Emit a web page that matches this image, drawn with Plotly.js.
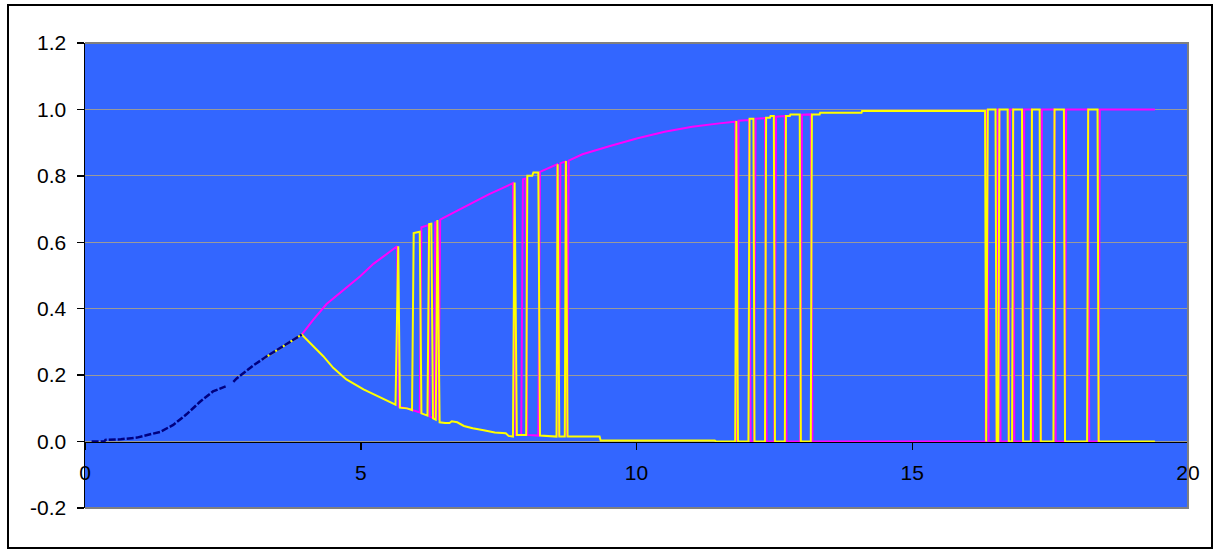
<!DOCTYPE html>
<html>
<head>
<meta charset="utf-8">
<script src="https://cdn.plot.ly/plotly-3.0.1.min.js"></script>
<style>
  html, body { margin: 0; padding: 0; background: #ffffff; }
  #chart { position: absolute; left: 0; top: 0; width: 1215px; height: 550px; }
  #frame { position: absolute; left: 7px; top: 4px; width: 1206px; height: 545px;
           border: 2px solid #000; box-sizing: border-box; pointer-events: none; }
</style>
</head>
<body>
<div id="chart"></div>
<div id="frame"></div>
<script>
// ---- data ----
const navyX = [0.12, 0.35, 0.37, 0.65, 0.94, 1.12, 1.36, 1.6, 1.84, 2.08, 2.32, 2.55, 2.6, 2.69, 2.75, 3.05, 3.29, 3.59, 3.93];
const navyY = [0, 0, 0.005, 0.007, 0.012, 0.019, 0.029, 0.05, 0.082, 0.119, 0.151, 0.166, null, 0.18, 0.19, 0.229, 0.256, 0.287, 0.322];

const magX = [3.93, 4.14, 4.38, 4.75, 4.99, 5.23, 5.49, 5.66, 5.69, 5.84, 5.99, 6.07, 6.10, 6.23, 6.25, 6.33, 6.35, 6.38, 6.41, 6.44,
  6.63, 7.03, 7.33, 7.53, 7.76, 7.81, 7.91, 7.94, 7.99, 8.02, 8.22, 8.25, 8.38, 8.56, 8.59, 8.62, 8.71, 8.74, 8.77,
  9.02, 9.52, 10.02, 10.51, 11.01, 11.5, 11.79, 11.82, 11.85, 12.04, 12.07, 12.13, 12.16, 12.33, 12.36, 12.50, 12.53,
  12.69, 12.72, 12.97, 13.00, 13.16, 13.19, 16.33, 16.355, 16.385, 16.53, 16.55, 16.58, 16.60, 16.75, 16.77, 16.83,
  16.85, 17.01, 17.03, 17.17, 17.19, 17.33, 17.35, 17.58, 17.60, 17.77, 17.79, 18.19, 18.21, 18.38, 18.40, 19.40];
const magY = [0.322, 0.367, 0.414, 0.466, 0.498, 0.535, 0.567, 0.588, 0.105, 0.1, 0.092, 0.088, 0.645, 0.652, 0.075, 0.07, 0.66, 0.662, 0.065, 0.668,
  0.685, 0.72, 0.745, 0.76, 0.778, 0.02, 0.02, 0.79, 0.792, 0.02, 0.018, 0.812, 0.822, 0.835, 0.015, 0.838, 0.843, 0.015, 0.846,
  0.865, 0.89, 0.913, 0.933, 0.948, 0.958, 0.963, 0.0, 0.966, 0.968, 0.0, 0.0, 0.972, 0.974, 0.0, 0.0, 0.978,
  0.98, 0.0, 0.0, 0.984, 0.985, 0.0, 0.0, 1.0, 0.0, 0.0, 1.0, 1.0, 0.0, 0.0, 1.0, 1.0,
  0.0, 0.0, 1.0, 1.0, 0.0, 0.0, 1.0, 1.0, 0.0, 0.0, 1.0, 1.0, 0.0, 0.0, 1.0, 1.0];

const yelX = [3.24, 3.59, 3.93, 4.14, 4.32, 4.5, 4.74, 5.05, 5.35, 5.63, 5.68, 5.71, 5.84, 5.93, 5.96, 6.07, 6.10, 6.21, 6.24,
  6.28, 6.31, 6.36, 6.39, 6.43, 6.53, 6.61, 6.65, 6.75, 6.87, 7.03, 7.23, 7.43, 7.63, 7.68, 7.76, 7.79, 7.83, 7.91, 8.0,
  8.02, 8.11, 8.13, 8.22, 8.25, 8.55, 8.57, 8.60, 8.70, 8.72, 8.75, 9.33, 9.35, 11.42, 11.44, 11.79, 11.81, 11.84, 12.03, 12.05,
  12.12, 12.14, 12.33, 12.35, 12.42, 12.43, 12.49, 12.51, 12.69, 12.71, 12.78, 12.79, 12.96, 12.98, 13.16, 13.18, 13.32, 13.33,
  14.08, 14.09, 16.32, 16.34, 16.37, 16.51, 16.53, 16.56, 16.58, 16.73, 16.75, 16.81, 16.83, 16.99, 17.01, 17.15, 17.17,
  17.31, 17.33, 17.56, 17.58, 17.75, 17.77, 18.17, 18.19, 18.36, 18.38, 19.40];
const yelY = [0.25, 0.287, 0.322, 0.287, 0.257, 0.222, 0.187, 0.157, 0.132, 0.111, 0.588, 0.102, 0.1, 0.095, 0.628, 0.632, 0.085, 0.078, 0.655,
  0.656, 0.07, 0.066, 0.667, 0.058, 0.056, 0.056, 0.061, 0.058, 0.047, 0.04, 0.034, 0.027, 0.025, 0.017, 0.015, 0.78, 0.02, 0.02, 0.02,
  0.80, 0.80, 0.81, 0.81, 0.018, 0.015, 0.835, 0.015, 0.015, 0.845, 0.015, 0.015, 0.003, 0.003, 0.0, 0.0, 0.965, 0.0, 0.0, 0.972,
  0.972, 0.0, 0.0, 0.975, 0.975, 0.98, 0.98, 0.0, 0.0, 0.98, 0.98, 0.985, 0.985, 0.0, 0.0, 0.985, 0.985, 0.99,
  0.99, 0.995, 0.995, 0.0, 1.0, 1.0, 0.0, 0.0, 1.0, 1.0, 0.0, 0.0, 1.0, 1.0, 0.0, 0.0, 1.0,
  1.0, 0.0, 0.0, 1.0, 1.0, 0.0, 0.0, 1.0, 1.0, 0.0, 0.0];

const xTicks = [0, 5, 10, 15, 20];
const yTicks = [-0.2, 0, 0.2, 0.4, 0.6, 0.8, 1.0, 1.2];

// ---- chart ----
const traces = [
  { x: magX, y: magY, type: 'scatter', mode: 'lines', line: { color: '#FF00FF', width: 2 }, hoverinfo: 'skip' },
  { x: yelX, y: yelY, type: 'scatter', mode: 'lines', line: { color: '#FFFF00', width: 2 }, hoverinfo: 'skip' },
  { x: navyX, y: navyY, type: 'scatter', mode: 'lines', connectgaps: false,
    line: { color: '#000080', width: 2.5, dash: '7px,2px' }, hoverinfo: 'skip' }
];

const font = { family: '"Liberation Sans", Arial, sans-serif', size: 21, color: '#000' };

const layout = {
  width: 1215, height: 550,
  margin: { l: 85, r: 27, t: 43, b: 42, pad: 0 },
  paper_bgcolor: 'rgba(0,0,0,0)',
  plot_bgcolor: '#3366FF',
  showlegend: false,
  font: font,
  xaxis: {
    range: [0, 20], tickvals: xTicks, ticktext: xTicks.map(String),
    anchor: 'free', position: 0.2 / 1.4,
    showgrid: false, zeroline: false,
    showline: true, linecolor: '#000', linewidth: 1.5,
    ticks: 'outside', ticklen: 7, tickcolor: '#000', tickwidth: 1.5,
    ticklabelstandoff: 5, tickfont: font
  },
  yaxis: {
    range: [-0.2, 1.2], tickvals: yTicks, ticktext: yTicks.map(v => v.toFixed(1)),
    showgrid: true, gridcolor: '#9a9a9a', gridwidth: 1,
    zeroline: false,
    showline: true, linecolor: '#000', linewidth: 1.5,
    ticks: 'outside', ticklen: 7, tickcolor: '#000', tickwidth: 1.5,
    ticklabelstandoff: 6, tickfont: font
  },
  shapes: [
    { type: 'path', xref: 'paper', yref: 'paper', path: 'M 0 1 L 1 1 L 1 0 L 0 0',
      line: { color: '#808080', width: 2 }, layer: 'above' }
  ]
};

Plotly.newPlot('chart', traces, layout, { displayModeBar: false, staticPlot: true });
</script>
</body>
</html>
